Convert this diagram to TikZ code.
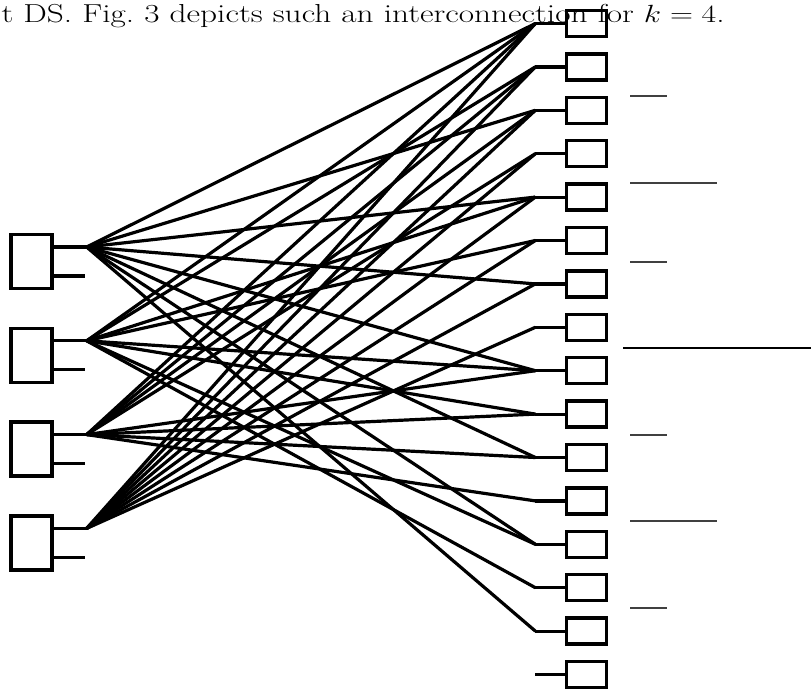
\documentclass[tikz,border=0pt]{standalone}
\usepackage{tikz}
\usetikzlibrary{calc,positioning}

\tikzset{
  srcbox/.style={draw,line width=3.3pt,minimum width=41pt,minimum height=54pt,inner sep=0pt},
  dstbox/.style={draw,line width=3.3pt,minimum width=40pt,minimum height=26pt,inner sep=0pt},
  rule/.style={draw=black!75,line width=1.4pt}
}

\begin{document}
\begin{tikzpicture}[x=1pt,y=-1pt,line width=3.2pt]
  \useasboundingbox (0,0) rectangle (811,688);
  \node[anchor=base west,inner sep=0pt,font=\fontsize{26}{30}\selectfont] (caption) at (0,22)
    {\scalebox{1.28}[1]{t DS. Fig.~3 depicts such an interconnection for $k=4$.}};

  % left modules with two ports each
  \foreach \i in {1,...,4} {
    \node[srcbox] (src\i) at (31.5,{261.5+93.8*(\i-1)}) {};
    \coordinate (s\i) at ($(src\i.east)+(33,-14.5)$);
    \coordinate (u\i) at ($(src\i.east)+(31,14.5)$);
    \draw (src\i.east |- s\i) -- (s\i);
    \draw (src\i.east |- u\i) -- (u\i);
  }

  % right modules
  \foreach \j in {1,...,16} {
    \node[dstbox] (dst\j) at (586.5,{23.5+43.4*(\j-1)}) {};
    \coordinate (t\j) at ($(dst\j.west)+(-29.5,0)$);
    \draw (dst\j.west) -- (t\j);
  }

  % interconnection
  \foreach \i/\list in {1/{1,3,5,7,9,11,13,15},2/{1,2,5,6,9,10,13,14},
                        3/{1,2,3,4,9,10,11,12},4/{1,2,3,4,5,6,7,8}}
    \foreach \j in \list
      \draw (s\i) -- (t\j);

  % rules at the right margin
  \draw[rule] (630,96) -- (667,96);
  \draw[rule] (630,183) -- (717,183);
  \draw[rule] (630,262) -- (667,262);
  \draw[rule,draw=black] (623,348) -- (811,348);
  \draw[rule] (630,435) -- (667,435);
  \draw[rule] (630,521) -- (717,521);
  \draw[rule] (630,608) -- (667,608);
\end{tikzpicture}
\end{document}
